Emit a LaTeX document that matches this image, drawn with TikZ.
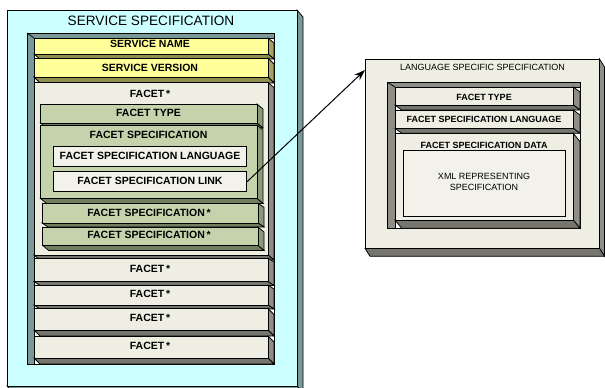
\documentclass[tikz,border=0pt]{standalone}
\usepackage{fontspec}
\setmainfont{Liberation Sans}
\usetikzlibrary{arrows.meta}

% palette
\definecolor{skyA}{HTML}{CCFFFF}
\definecolor{slate}{HTML}{7B9898}
\definecolor{yelA}{HTML}{FFFF99}
\definecolor{yelB}{HTML}{A3A363}
\definecolor{yelC}{HTML}{8F8F4F}
\definecolor{ivoA}{HTML}{EEEEE2}
\definecolor{ivoB}{HTML}{8E8E86}
\definecolor{ivoC}{HTML}{76766E}
\definecolor{grnA}{HTML}{C4D3AC}
\definecolor{grnB}{HTML}{8A9A78}
\definecolor{grnC}{HTML}{6E7E5E}
\definecolor{paper}{HTML}{F2F2EA}

\tikzset{
  edge/.style={draw=black, line width=0.75pt, line join=miter},
  skyfront/.style={edge, fill=skyA}, skyside/.style={edge, fill=slate}, skybot/.style={edge, fill=slate},
  yelfront/.style={edge, fill=yelA}, yelside/.style={edge, fill=yelB}, yelbot/.style={edge, fill=yelC},
  ivofront/.style={edge, fill=ivoA}, ivoside/.style={edge, fill=ivoB}, ivobot/.style={edge, fill=ivoC},
  grnfront/.style={edge, fill=grnA}, grnside/.style={edge, fill=grnB}, grnbot/.style={edge, fill=grnC},
  flatbox/.style={edge, fill=paper, inner sep=0pt},
  lbl/.style={anchor=base, inner sep=0pt, font=\fontsize{10.5}{12}\selectfont\bfseries},
  lblsmall/.style={anchor=base, inner sep=0pt, font=\fontsize{9}{11}\selectfont\bfseries},
  caption/.style={anchor=base, inner sep=0pt, font=\fontsize{9}{11}\selectfont},
  bigtitle/.style={anchor=base, inner sep=0pt, font=\fontsize{13.6}{16}\selectfont},
  link/.style={line width=1pt, -{Stealth[length=11pt,width=7.5pt]}}
}

% extruded slab: palette, x1, y1, x2, y2, dx, dy
\newcommand{\slab}[7]{%
  \path[#1side] (#4,#3) -- (#4+#6,#3+#7) -- (#4+#6,#5+#7) -- (#4,#5) -- cycle;
  \path[#1bot] (#2,#5) -- (#4,#5) -- (#4+#6,#5+#7) -- (#2+#6,#5+#7) -- cycle;
  \path[#1front] (#2,#3) rectangle (#4,#5);
}

% recessed tray: bevel colour, x1, y1, x2, y2, left band, top band
\newcommand{\tray}[7]{%
  \fill[#1] (#2,#3) rectangle (#4,#5);
  \fill[white] (#2+#6,#3+#7) rectangle (#4,#5);
  \draw[edge] (#2,#3) -- (#2+#6,#3+#7);
  \draw[edge] (#2+#6,#5) -- (#2+#6,#3+#7) -- (#4,#3+#7);
  \draw[edge] (#2,#3) rectangle (#4,#5);
}

\begin{document}
\begin{tikzpicture}[x=1pt, y=-1pt]
\useasboundingbox (0,0) rectangle (605,388);
\fill[white] (0,0) rectangle (605,388);

% ---- service specification ----
\slab{sky}{7}{10}{297}{386}{6}{7}
\node[bigtitle] (svcspec) at (151,25.7) {SERVICE SPECIFICATION};

\tray{slate}{27}{33}{274}{364}{7}{5}

\slab{yel}{34}{38}{268}{54}{6}{5}
\node[lbl] (svcname) at (150,47) {SERVICE NAME};
\slab{yel}{34}{58}{268}{77}{6}{6}
\node[lbl] (svcver) at (150,71.7) {SERVICE VERSION};

\slab{ivo}{34}{82.5}{268}{255}{6}{5}
\node[lbl] (facet1) at (150,97.3) {FACET\,*};

\slab{grn}{40.5}{104}{257}{123}{6}{5}
\node[lbl] (ftype) at (148.5,116.7) {FACET TYPE};
\slab{grn}{40.5}{125}{257}{198.5}{6}{5}
\node[lbl] (fspec) at (148.5,138.3) {FACET SPECIFICATION};
\draw[flatbox] (53.3,146.7) rectangle (246.7,166.7);
\node[lbl] (fslang) at (150,159.3) {FACET SPECIFICATION LANGUAGE};
\node[flatbox, minimum width=193.4pt, minimum height=20pt] (fslink) at (150,181.7) {};
\node[lbl] (fslinktxt) at (150,184.3) {FACET SPECIFICATION LINK};
\slab{grn}{42}{203.3}{258}{223}{6}{4}
\node[lbl] (fsa) at (149,216.7) {FACET SPECIFICATION\,*};
\slab{grn}{42.7}{227}{258}{245.5}{6}{5}
\node[lbl] (fsb) at (149,238.3) {FACET SPECIFICATION\,*};

\slab{ivo}{34}{258}{268}{281.5}{6}{4}
\node[lbl] (facet2) at (150,272.7) {FACET\,*};
\slab{ivo}{34}{285}{268}{305}{6}{4}
\node[lbl] (facet3) at (150,297.3) {FACET\,*};
\slab{ivo}{34}{308.5}{268}{330}{6}{6}
\node[lbl] (facet4) at (150,321.7) {FACET\,*};
\slab{ivo}{34}{336}{268}{358}{6}{6}
\node[lbl] (facet5) at (150,349.3) {FACET\,*};

% ---- language specific specification ----
\slab{ivo}{365}{59}{599.5}{248.3}{5}{8}
\node[caption] (lsstitle) at (482.5,70) {LANGUAGE SPECIFIC SPECIFICATION};
\coordinate (lssport) at (365,70);

\tray{ivoB}{387.3}{82.3}{580}{228.3}{7.7}{4.7}
\slab{ivo}{395}{87}{573.3}{105}{6.7}{5}
\node[lblsmall] (rtype) at (484,100) {FACET TYPE};
\slab{ivo}{395}{110}{573.3}{128.3}{6.7}{5}
\node[lblsmall] (rlang) at (484,122.7) {FACET SPECIFICATION LANGUAGE};
\slab{ivo}{395}{133.3}{573.3}{220}{6.7}{8.3}
\node[lblsmall] (rdata) at (484,148.3) {FACET SPECIFICATION DATA};
\draw[flatbox] (403.3,150) rectangle (565,216);
\node[caption] (xml1) at (484,179.3) {XML REPRESENTING};
\node[caption] (xml2) at (484,190) {SPECIFICATION};

% ---- link between the two ----
\draw[link] (fslink.east) -- (lssport);
\end{tikzpicture}
\end{document}
